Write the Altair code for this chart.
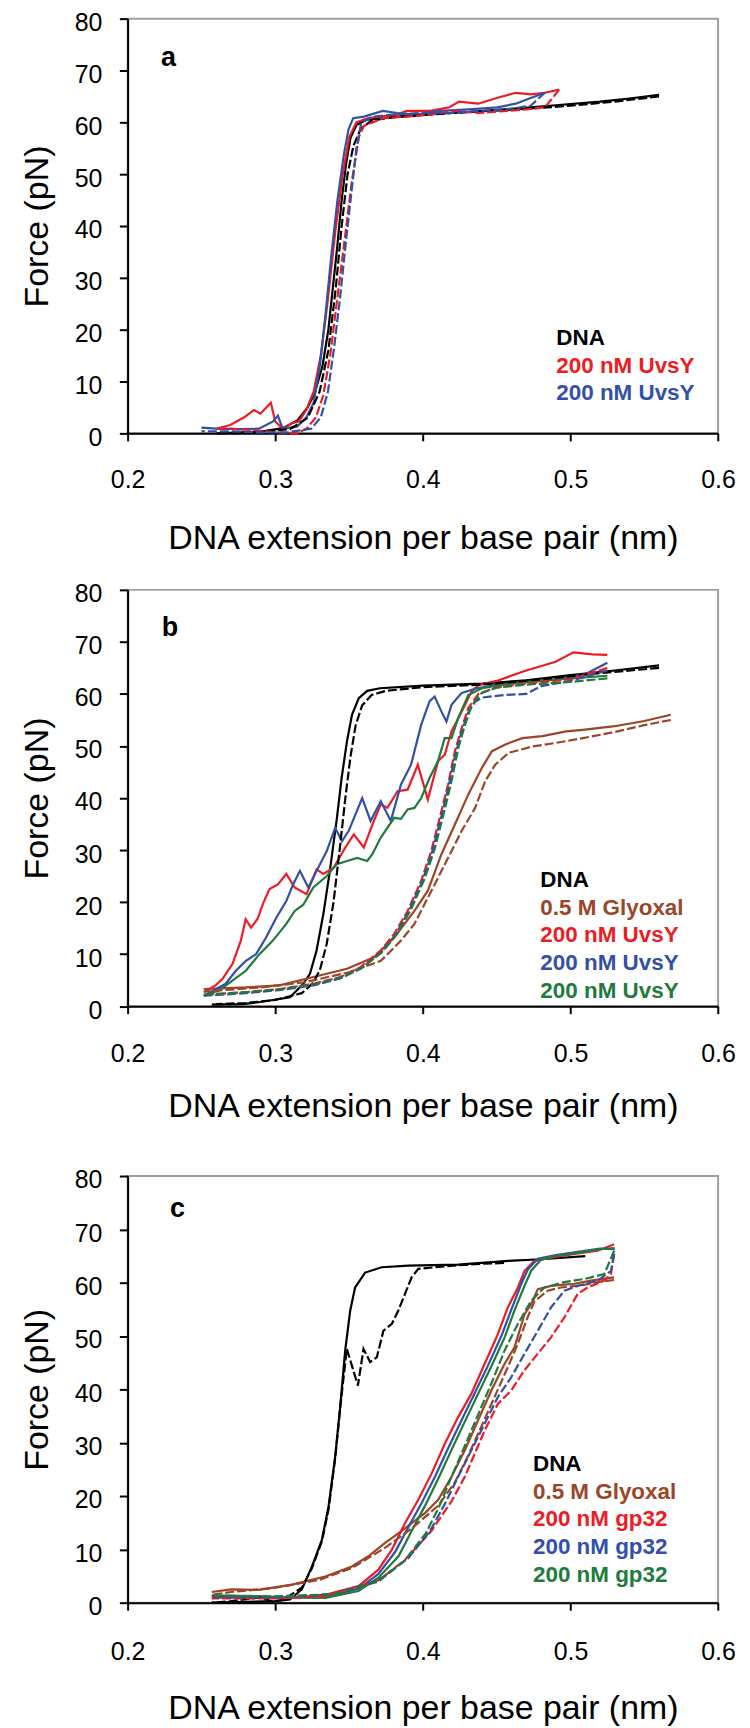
import altair as alt
import pandas as pd

FONT = "Liberation Sans, Arial, Helvetica, sans-serif"
BLACK = "#000000"
BROWN = "#9C4528"
RED = "#ED1C24"
BLUE = "#3350A8"
GREEN = "#1E7B3C"

X_TICKS = [0.2, 0.3, 0.4, 0.5, 0.6]
Y_TICKS = [0, 10, 20, 30, 40, 50, 60, 70, 80]
X_TITLE = "DNA extension per base pair (nm)"
Y_TITLE = "Force (pN)"

# ---------------- panel a ----------------
A_DNA_STR = [(0.26, 0.0), (0.29, 0.3), (0.305, 1.0), (0.315, 2.5), (0.322, 5.0), (0.327, 8.0),
             (0.332, 13.0), (0.336, 20.0), (0.339, 28.0), (0.342, 36.0), (0.345, 45.0), (0.348, 52.0),
             (0.351, 57.0), (0.355, 59.5), (0.362, 60.5), (0.38, 61.0), (0.4, 61.5), (0.43, 62.0),
             (0.46, 62.6), (0.49, 63.3), (0.52, 64.0), (0.54, 64.6), (0.56, 65.3)]
A_DNA_REL = [(0.56, 65.0), (0.53, 64.0), (0.5, 63.2), (0.47, 62.6), (0.42, 61.8), (0.38, 61.0),
             (0.365, 60.3), (0.358, 58.8), (0.353, 55.5), (0.349, 50.0), (0.345, 40.0), (0.341, 28.0),
             (0.336, 16.0), (0.33, 8.0), (0.322, 3.0), (0.31, 0.8), (0.27, 0.0)]
A_RED_STR = [(0.26, 0.9), (0.2695, 1.6), (0.279, 3.1), (0.2856, 4.5), (0.29, 3.8), (0.297, 5.9),
             (0.3, 2.3), (0.305, 0.9), (0.3115, 2.0), (0.316, 2.3), (0.321, 4.5), (0.326, 8.0),
             (0.331, 15.2), (0.3357, 25.9), (0.3406, 38.7), (0.3454, 49.4), (0.3502, 57.2),
             (0.355, 60.0), (0.363, 60.8), (0.3826, 61.5), (0.389, 62.2), (0.405, 62.2), (0.418, 62.9),
             (0.4245, 64.0), (0.4375, 63.6), (0.45, 64.7), (0.463, 65.7), (0.473, 65.4),
             (0.4827, 65.7), (0.4924, 66.3)]
A_RED_REL = [(0.4924, 66.3), (0.4827, 62.9), (0.47, 62.5), (0.457, 62.2), (0.4375, 61.8),
             (0.4213, 62.2), (0.405, 61.5), (0.389, 61.1), (0.373, 60.8), (0.36, 59.3), (0.3567, 57.2),
             (0.3519, 48.6), (0.347, 37.3), (0.342, 25.9), (0.3373, 15.2), (0.3325, 7.3),
             (0.3276, 3.1), (0.3212, 0.9), (0.3147, 0.0), (0.302, 0.2), (0.2856, 0.6), (0.2695, 0.9),
             (0.26, 0.9)]
A_BLUE_STR = [(0.25, 1.1), (0.26, 0.9), (0.276, 0.8), (0.289, 0.9), (0.2985, 2.3), (0.3018, 3.4),
              (0.305, 0.9), (0.3147, 1.3), (0.3212, 3.1), (0.326, 5.9), (0.3302, 13.0), (0.3341, 23.0),
              (0.338, 34.4), (0.3422, 45.1), (0.3464, 53.6), (0.3496, 58.6), (0.3528, 60.8),
              (0.36, 61.1), (0.3729, 62.2), (0.3826, 61.8), (0.3955, 61.5), (0.4116, 62.2),
              (0.431, 62.5), (0.4504, 62.9), (0.463, 63.6), (0.473, 64.7), (0.4827, 65.7)]
A_BLUE_REL = [(0.4827, 65.7), (0.473, 63.2), (0.457, 62.5), (0.4375, 62.2), (0.418, 61.8),
              (0.3987, 61.8), (0.3793, 61.5), (0.3664, 61.1), (0.3583, 60.0), (0.355, 55.0),
              (0.3519, 47.2), (0.3477, 36.5), (0.3438, 25.9), (0.3399, 16.6), (0.3357, 8.0),
              (0.3309, 3.1), (0.3244, 0.9), (0.3082, 0.2), (0.2889, 0.2), (0.2695, 0.4), (0.25, 0.4)]

# ---------------- panel b ----------------
B_DNA_STR = [(0.257, 0.3), (0.278, 0.4), (0.29, 0.8), (0.31, 1.7), (0.319, 4.3), (0.3235, 6.2),
             (0.328, 10.7), (0.3326, 17.7), (0.337, 26.0), (0.3418, 36.2), (0.345, 43.9),
             (0.3486, 50.9), (0.352, 56.0), (0.3566, 59.2), (0.3623, 60.6), (0.371, 61.1),
             (0.4, 61.6), (0.44, 62.0), (0.47, 62.6), (0.5, 63.6), (0.53, 64.5), (0.56, 65.5)]
B_DNA_REL = [(0.56, 65.0), (0.52, 64.0), (0.48, 62.8), (0.44, 61.8), (0.4, 61.3), (0.375, 60.6),
             (0.3653, 59.8), (0.3589, 57.8), (0.3545, 54.0), (0.351, 48.0), (0.3475, 40.0),
             (0.344, 31.0), (0.3395, 20.0), (0.3349, 12.0), (0.3303, 7.0), (0.3258, 4.5),
             (0.318, 2.5), (0.3, 1.2), (0.28, 0.6), (0.26, 0.4)]
B_BROWN_STR = [(0.2516, 3.3), (0.2801, 3.6), (0.303, 4.0), (0.3258, 5.6), (0.3486, 7.2),
               (0.3669, 9.4), (0.3806, 13.2), (0.3943, 18.3), (0.4034, 22.2), (0.4126, 29.2),
               (0.4217, 34.9), (0.4308, 40.7), (0.44, 45.8), (0.4468, 49.0), (0.4559, 50.3),
               (0.4674, 51.5), (0.481, 51.9), (0.497, 52.8), (0.5084, 53.1), (0.53, 53.8),
               (0.55, 54.8), (0.568, 56.0)]
B_BROWN_REL = [(0.568, 55.0), (0.55, 54.0), (0.53, 52.7), (0.5084, 51.5), (0.4902, 50.6),
               (0.4742, 49.9), (0.4582, 48.7), (0.449, 46.4), (0.4422, 43.2), (0.4354, 38.1),
               (0.4263, 33.7), (0.4171, 28.5), (0.408, 23.4), (0.3943, 15.8), (0.3852, 12.6),
               (0.3715, 8.7), (0.35, 6.5), (0.32, 4.6), (0.29, 3.6), (0.2516, 2.8)]
B_RED_STR = [(0.2516, 2.7), (0.2596, 4.0), (0.2642, 5.2), (0.271, 8.1), (0.2767, 12.6),
             (0.28, 16.7), (0.2836, 15.1), (0.2881, 16.8), (0.2916, 19.6), (0.2961, 22.5),
             (0.3018, 23.4), (0.3075, 25.4), (0.3132, 22.8), (0.3212, 21.5), (0.328, 26.3),
             (0.3326, 25.4), (0.3395, 26.6), (0.3475, 30.5), (0.3532, 33.0), (0.36, 30.5),
             (0.3658, 34.9), (0.3715, 38.8), (0.376, 38.1), (0.3829, 41.3), (0.3897, 41.6),
             (0.3966, 46.4), (0.4034, 39.7), (0.4103, 47.1), (0.4148, 48.3), (0.4194, 52.8),
             (0.4263, 56.6), (0.433, 60.5), (0.4377, 61.7), (0.45, 62.5), (0.47, 64.5),
             (0.49, 66.2), (0.502, 68.0), (0.515, 67.6), (0.525, 67.5)]
B_RED_REL = [(0.525, 65.0), (0.5, 62.8), (0.47, 62.0), (0.45, 61.3), (0.4377, 60.0),
             (0.4308, 57.3), (0.4263, 53.4), (0.4217, 49.0), (0.4171, 42.6), (0.4126, 37.5),
             (0.4057, 29.8), (0.3989, 24.1), (0.3897, 18.3), (0.3806, 13.9), (0.3715, 10.7),
             (0.3578, 7.5), (0.344, 5.6), (0.3258, 4.3), (0.303, 3.3), (0.2801, 2.7), (0.2516, 2.2)]
B_BLUE_STR = [(0.2516, 2.0), (0.2664, 4.3), (0.2733, 6.8), (0.2801, 8.7), (0.287, 10.0),
              (0.2938, 13.2), (0.3007, 17.0), (0.3075, 20.2), (0.3121, 23.4), (0.3167, 26.0),
              (0.3224, 22.8), (0.328, 26.0), (0.3349, 29.8), (0.3406, 34.3), (0.3452, 31.7),
              (0.3498, 33.7), (0.3589, 40.0), (0.3646, 35.6), (0.3715, 39.4), (0.3783, 35.6),
              (0.3852, 42.6), (0.392, 46.4), (0.3989, 54.1), (0.4046, 58.6), (0.408, 59.5),
              (0.4126, 56.6), (0.416, 54.7), (0.4194, 57.9), (0.4263, 60.2), (0.4354, 61.0),
              (0.45, 61.8), (0.47, 62.3), (0.49, 62.8), (0.51, 63.8), (0.525, 66.0)]
B_BLUE_REL = [(0.525, 64.5), (0.5, 62.5), (0.48, 61.5), (0.47, 60.0), (0.455, 59.8), (0.44, 59.3),
              (0.4354, 58.5), (0.4308, 56.5), (0.4263, 52.8), (0.4217, 48.0), (0.4171, 41.8),
              (0.4126, 36.5), (0.4057, 29.0), (0.3989, 23.5), (0.3897, 17.8), (0.3806, 13.4),
              (0.3715, 10.2), (0.3578, 7.2), (0.344, 5.3), (0.3258, 4.0), (0.303, 3.1),
              (0.2801, 2.5), (0.2516, 2.0)]
B_GREEN_STR = [(0.2516, 2.0), (0.2619, 3.0), (0.271, 4.9), (0.2801, 6.8), (0.2893, 10.0),
               (0.2984, 12.6), (0.3075, 15.8), (0.3132, 18.3), (0.319, 19.5), (0.3258, 22.8),
               (0.3349, 25.0), (0.3418, 27.3), (0.3486, 27.9), (0.3555, 28.5), (0.3623, 27.9),
               (0.3658, 29.2), (0.3715, 32.4), (0.3806, 36.2), (0.3852, 36.0), (0.3897, 37.8),
               (0.3943, 38.1), (0.3989, 40.0), (0.4046, 43.9), (0.4103, 47.1), (0.4148, 51.5),
               (0.4194, 51.5), (0.424, 55.4), (0.4308, 59.8), (0.44, 61.1), (0.46, 62.0),
               (0.48, 62.5), (0.5, 63.0), (0.525, 63.5)]
B_GREEN_REL = [(0.525, 63.0), (0.5, 62.3), (0.47, 61.8), (0.45, 61.2), (0.4399, 60.2),
               (0.4331, 57.8), (0.4285, 54.0), (0.424, 49.6), (0.4194, 43.2), (0.4148, 37.8),
               (0.408, 30.2), (0.4012, 24.5), (0.392, 18.6), (0.3829, 14.1), (0.3738, 10.8),
               (0.36, 7.6), (0.3463, 5.7), (0.328, 4.3), (0.305, 3.3), (0.2824, 2.7), (0.2516, 2.2)]

# ---------------- panel c ----------------
C_DNA_STR = [(0.257, 0.0), (0.3, 0.3), (0.31, 0.6), (0.318, 2.5), (0.3249, 6.8), (0.3316, 11.8),
             (0.3361, 18.0), (0.3406, 27.4), (0.344, 36.7), (0.3474, 47.3), (0.3508, 54.8),
             (0.3541, 59.1), (0.3609, 61.9), (0.3721, 62.9), (0.3901, 63.2), (0.4239, 63.4),
             (0.4576, 64.1), (0.4801, 64.4), (0.51, 65.0)]
C_DNA_REL = [(0.455, 63.7), (0.4351, 63.5), (0.4126, 63.0), (0.3969, 62.6), (0.3924, 61.0),
             (0.3879, 57.9), (0.3834, 54.8), (0.379, 52.3), (0.3733, 51.0), (0.3688, 46.0),
             (0.3643, 45.1), (0.3598, 47.6), (0.356, 40.7), (0.3485, 47.6), (0.3474, 45.0),
             (0.344, 36.5), (0.3406, 27.0), (0.3361, 17.5), (0.3316, 11.5), (0.3249, 6.5),
             (0.318, 2.8), (0.305, 0.5), (0.298, 0.2), (0.29, 1.0), (0.27, 0.3), (0.257, 0.0)]
C_BROWN_STR = [(0.257, 2.0), (0.27, 2.5), (0.2889, 2.4), (0.3114, 3.4), (0.3339, 4.9),
               (0.3519, 6.8), (0.3631, 8.7), (0.3744, 11.2), (0.3834, 13.0), (0.3924, 14.9),
               (0.4014, 16.8), (0.4104, 19.3), (0.4194, 23.6), (0.4284, 28.6), (0.4374, 34.2),
               (0.4464, 39.8), (0.4554, 44.8), (0.4621, 47.9), (0.4689, 54.1), (0.4734, 56.0),
               (0.4779, 58.8), (0.4869, 59.4), (0.5026, 59.8), (0.5139, 60.4), (0.5296, 61.0)]
C_BROWN_REL = [(0.5296, 60.5), (0.5206, 60.2), (0.5071, 59.5), (0.4936, 59.1), (0.4846, 58.5),
               (0.4756, 56.5), (0.4711, 53.6), (0.4644, 48.6), (0.4576, 44.2), (0.4486, 38.6),
               (0.4396, 33.0), (0.4306, 27.5), (0.4216, 22.5), (0.4104, 18.2), (0.3924, 13.9),
               (0.3744, 10.3), (0.3519, 6.5), (0.33, 4.3), (0.3, 2.8), (0.27, 2.0), (0.257, 1.5)]
C_RED_STR = [(0.257, 1.0), (0.28, 1.0), (0.3114, 0.9), (0.3339, 1.5), (0.3564, 3.1), (0.3699, 6.2),
             (0.3789, 9.9), (0.3879, 14.9), (0.3969, 19.3), (0.4059, 24.2), (0.4149, 29.8),
             (0.4239, 34.8), (0.4329, 39.2), (0.4419, 44.8), (0.4509, 50.4), (0.4576, 55.4),
             (0.4644, 59.1), (0.4689, 62.2), (0.4756, 64.1), (0.4869, 64.7), (0.5026, 65.4),
             (0.5184, 66.0), (0.5296, 67.2)]
C_RED_REL = [(0.5296, 65.4), (0.5274, 61.6), (0.5229, 60.4), (0.5116, 59.1), (0.5049, 57.9),
             (0.4959, 53.5), (0.4869, 49.8), (0.4779, 46.7), (0.4689, 43.6), (0.4599, 39.8),
             (0.4509, 37.3), (0.4419, 32.3), (0.4284, 23.6), (0.4194, 19.0), (0.4059, 13.5),
             (0.3879, 8.0), (0.3699, 4.2), (0.3339, 1.2), (0.3, 0.8), (0.257, 0.8)]
C_BLUE_STR = [(0.257, 1.2), (0.29, 1.0), (0.3114, 1.0), (0.3339, 1.0), (0.3564, 2.6), (0.3699, 5.4),
              (0.3812, 9.5), (0.3902, 14.2), (0.3992, 18.7), (0.4082, 23.6), (0.4172, 29.0),
              (0.4262, 34.2), (0.4352, 39.3), (0.4442, 44.5), (0.4532, 50.0), (0.46, 55.0),
              (0.4667, 59.8), (0.4712, 62.5), (0.4779, 64.5), (0.49, 65.2), (0.505, 65.8),
              (0.52, 66.4), (0.53, 66.3)]
C_BLUE_REL = [(0.5296, 65.4), (0.5274, 62.2), (0.5184, 60.4), (0.5049, 59.4), (0.4959, 58.5),
              (0.4869, 55.4), (0.4779, 51.0), (0.4689, 46.7), (0.4599, 42.3), (0.4509, 38.6),
              (0.4374, 31.1), (0.4239, 23.6), (0.4149, 18.5), (0.405, 13.5), (0.39, 8.3),
              (0.37, 4.2), (0.34, 1.6), (0.3, 1.0), (0.257, 1.0)]
C_GREEN_STR = [(0.257, 1.4), (0.29, 1.2), (0.3114, 1.0), (0.3339, 0.9), (0.3564, 2.2), (0.3699, 4.7),
               (0.3835, 8.7), (0.3925, 13.5), (0.4015, 18.2), (0.4105, 23.3), (0.4195, 28.7),
               (0.4285, 34.0), (0.4375, 39.2), (0.4465, 44.4), (0.4555, 49.8), (0.4622, 54.9),
               (0.469, 59.5), (0.4735, 62.3), (0.48, 64.3), (0.49, 65.0), (0.505, 65.6),
               (0.52, 66.3), (0.53, 66.5)]
C_GREEN_REL = [(0.5296, 66.0), (0.5229, 61.6), (0.5094, 60.7), (0.4959, 60.1), (0.4824, 59.1),
               (0.4734, 56.6), (0.4644, 52.3), (0.4554, 47.3), (0.4464, 41.1), (0.4329, 32.3),
               (0.4194, 23.6), (0.411, 18.0), (0.402, 13.0), (0.388, 8.0), (0.37, 4.0),
               (0.34, 1.6), (0.3, 1.2), (0.257, 1.3)]

# legends (text, colour, x, y in data units)
A_LEGEND_TEXT = ["DNA", "200 nM UvsY", "200 nM UvsY"]
A_LEGEND_COLOR = [BLACK, RED, BLUE]
A_LEGEND_Y = [18.4, 13.0, 7.7]
A_LEGEND_X = 0.4904
B_LEGEND_TEXT = ["DNA", "0.5 M Glyoxal", "200 nM UvsY", "200 nM UvsY", "200 nM UvsY"]
B_LEGEND_COLOR = [BLACK, BROWN, RED, BLUE, GREEN]
B_LEGEND_Y = [24.2, 18.9, 13.6, 8.2, 2.9]
B_LEGEND_X = 0.4796
C_LEGEND_TEXT = ["DNA", "0.5 M Glyoxal", "200 nM gp32", "200 nM gp32", "200 nM gp32"]
C_LEGEND_COLOR = [BLACK, BROWN, RED, BLUE, GREEN]
C_LEGEND_Y = [26.0, 20.8, 15.6, 10.4, 5.1]
C_LEGEND_X = 0.4746

PANEL_LABELS = ["a", "b", "c"]
PANEL_LABEL_X = [0.2277, 0.2287, 0.2338]
PANEL_LABEL_Y = [72.4, 72.6, 73.9]

A_CURVES = [(A_DNA_STR, BLACK, False), (A_DNA_REL, BLACK, True),
            (A_RED_STR, RED, False), (A_RED_REL, RED, True),
            (A_BLUE_STR, BLUE, False), (A_BLUE_REL, BLUE, True)]
B_CURVES = [(B_DNA_STR, BLACK, False), (B_DNA_REL, BLACK, True),
            (B_BROWN_STR, BROWN, False), (B_BROWN_REL, BROWN, True),
            (B_RED_STR, RED, False), (B_RED_REL, RED, True),
            (B_BLUE_STR, BLUE, False), (B_BLUE_REL, BLUE, True),
            (B_GREEN_STR, GREEN, False), (B_GREEN_REL, GREEN, True)]
C_CURVES = [(C_DNA_STR, BLACK, False), (C_DNA_REL, BLACK, True),
            (C_BROWN_STR, BROWN, False), (C_BROWN_REL, BROWN, True),
            (C_RED_STR, RED, False), (C_RED_REL, RED, True),
            (C_BLUE_STR, BLUE, False), (C_BLUE_REL, BLUE, True),
            (C_GREEN_STR, GREEN, False), (C_GREEN_REL, GREEN, True)]


def curves_df(name, curves):
    rows = []
    for k, (pts, color, dashed) in enumerate(curves):
        for i, (x, y) in enumerate(pts):
            rows.append({"sid": f"{name}{k}", "color": color, "dashed": dashed,
                         "i": i, "x": x, "y": y})
    return pd.DataFrame(rows)


def panel(name, curves, leg_text, leg_color, leg_x, leg_y, idx, height,
          x_lab_pad, x_title_pad, top_extra, bottom_extra):
    df = curves_df(name, curves)
    xenc = alt.X("x:Q", title=X_TITLE,
                 scale=alt.Scale(domain=[0.2, 0.6], nice=False, zero=False),
                 axis=alt.Axis(values=X_TICKS, format=".1f", grid=False, tickSize=7.5,
                               tickWidth=2, tickColor="black", domainWidth=2,
                               domainColor="black", labelFontSize=25, labelFont=FONT,
                               labelColor="black", labelPadding=x_lab_pad, labelFlush=False,
                               labelOverlap=False, titleFontSize=34, titleFont=FONT,
                               titleFontWeight="normal", titleColor="black",
                               titlePadding=x_title_pad))
    yenc = alt.Y("y:Q", title=Y_TITLE,
                 scale=alt.Scale(domain=[0, 80], nice=False, zero=False),
                 axis=alt.Axis(values=Y_TICKS, grid=False, tickSize=8.3, tickWidth=2,
                               tickColor="black", domainWidth=2, domainColor="black",
                               labelFontSize=25, labelFont=FONT, labelColor="black",
                               labelPadding=17.5, labelOffset=4, labelOverlap=False,
                               titleFontSize=34, titleFont=FONT, titleFontWeight="normal",
                               titleColor="black", titlePadding=19.5))
    col = alt.Color("color:N", scale=None, legend=None)
    base = alt.Chart(df)
    solid = base.transform_filter(alt.datum.dashed == False).mark_line(
        strokeWidth=2.2).encode(x=xenc, y=yenc, color=col, detail="sid:N", order="i:Q")
    dashed = base.transform_filter(alt.datum.dashed == True).mark_line(
        strokeWidth=2.2, strokeDash=[9, 3]).encode(
        x=xenc, y=yenc, color=col, detail="sid:N", order="i:Q")
    leg_df = pd.DataFrame({"x": [leg_x] * len(leg_text), "y": leg_y,
                           "text": leg_text, "color": leg_color})
    legend = alt.Chart(leg_df).mark_text(
        align="left", baseline="middle", font=FONT, fontSize=22.5, fontWeight="bold").encode(
        x=xenc, y=yenc, text="text:N", color=col)
    lab_df = pd.DataFrame({"x": [PANEL_LABEL_X[idx]], "y": [PANEL_LABEL_Y[idx]],
                           "text": [PANEL_LABELS[idx]]})
    label = alt.Chart(lab_df).mark_text(
        align="center", baseline="middle", font=FONT, fontSize=27, fontWeight="bold",
        color="black").encode(x=xenc, y=yenc, text="text:N")
    one = pd.DataFrame({"k": [0]})
    top_rule = alt.Chart(one).mark_rule(strokeOpacity=0, strokeWidth=0.5).encode(
        x=alt.value(-118.7), x2=alt.value(0), y=alt.value(-top_extra))
    layers = [solid, dashed, legend, label, top_rule]
    if bottom_extra is not None:
        bot_rule = alt.Chart(one).mark_rule(strokeOpacity=0, strokeWidth=0.5).encode(
            x=alt.value(0), x2=alt.value(20), y=alt.value(height + bottom_extra))
        layers.append(bot_rule)
    return alt.layer(*layers).properties(width=592.3, height=height)


pa = panel("a", A_CURVES, A_LEGEND_TEXT, A_LEGEND_COLOR, A_LEGEND_X, A_LEGEND_Y, 0, 416,
           26.75, 29.3, 9, 135)
pb = panel("b", B_CURVES, B_LEGEND_TEXT, B_LEGEND_COLOR, B_LEGEND_X, B_LEGEND_Y, 1, 417.6,
           28.1, 23.3, 20, 148.4)
pc = panel("c", C_CURVES, C_LEGEND_TEXT, C_LEGEND_COLOR, C_LEGEND_X, C_LEGEND_Y, 2, 428,
           29.0, 27.3, 20, None)

chart = alt.vconcat(pa, pb, pc, spacing=0).properties(
    padding={"top": -2, "left": 0, "right": 5, "bottom": 0}
).configure_view(stroke="#A0A0A0", strokeWidth=2)

chart.save("out.html", embed_options={"renderer": "svg", "actions": False})
